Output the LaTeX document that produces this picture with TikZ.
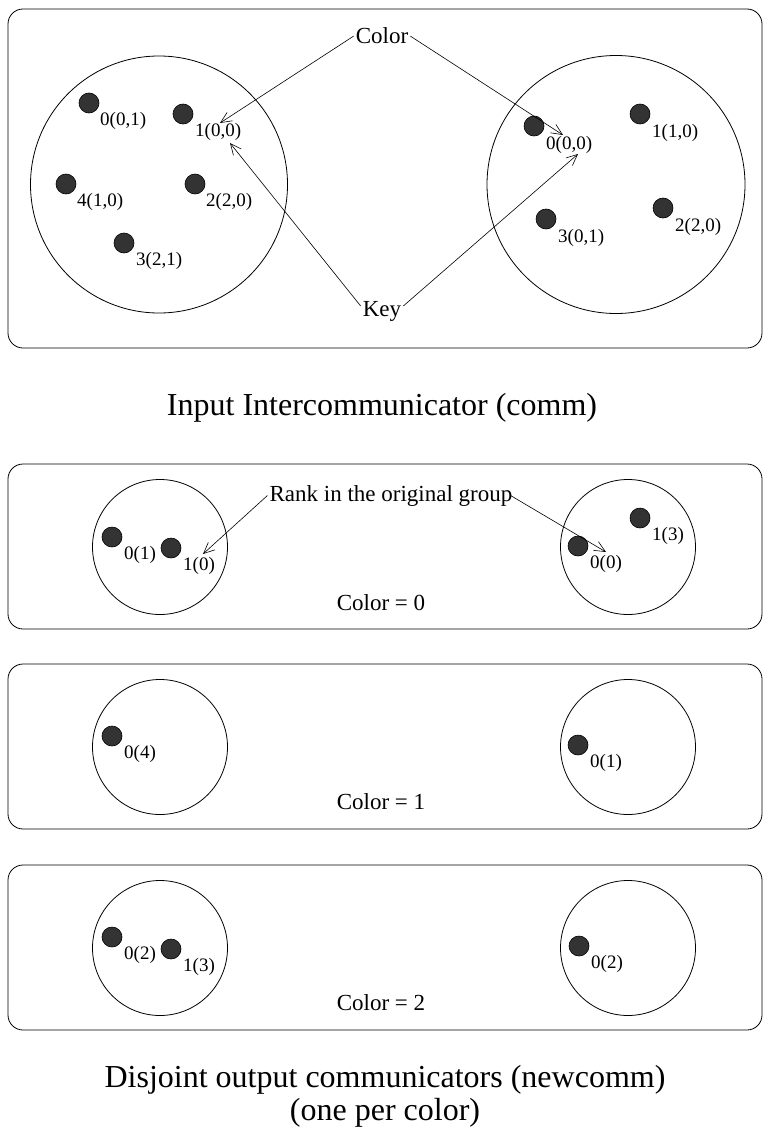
\documentclass[tikz,border=0pt]{standalone}
\usepackage{fontspec}
\setmainfont{Liberation Serif}
\usetikzlibrary{arrows.meta}
\begin{document}
\begin{tikzpicture}[x=1pt,y=-1pt,
  panel/.style={draw, rounded corners=15pt, line width=0.8pt},
  grp/.style={draw, circle, inner sep=0pt, line width=0.8pt},
  proc/.style={draw=black, fill=black!80, circle, inner sep=0pt, minimum size=20pt, line width=0.6pt},
  lbl/.style={anchor=west, inner sep=0pt, font=\fontsize{19}{21}\selectfont},
  ann/.style={inner sep=2pt, anchor=base, font=\fontsize{23}{26}\selectfont},
  ptr/.style={-{Straight Barb[length=11pt,width=10pt]}, line width=0.6pt},
  ttl/.style={anchor=base, inner sep=0pt, font=\fontsize{32}{36}\selectfont}]
\useasboundingbox (0,0) rectangle (770,1132);

% ---------- top panel ----------
\draw[panel] (8,9) rectangle (762,348);
\node[grp, minimum size=257pt] (gL) at (159,184.5) {};
\node[grp, minimum size=258pt] (gR) at (616,184.5) {};

\node[proc] (a0) at (89,103) {};  \node[lbl] (la0) at (100,121) {0(0,1)};
\node[proc] (a1) at (183,114) {}; \node[lbl] (la1) at (195,132) {1(0,0)};
\node[proc] (a4) at (66,184) {};  \node[lbl] (la4) at (77,202) {4(1,0)};
\node[proc] (a2) at (195,184) {}; \node[lbl] (la2) at (206,202) {2(2,0)};
\node[proc] (a3) at (124,243) {}; \node[lbl] (la3) at (136,261) {3(2,1)};

\node[proc] (b0) at (534,126) {}; \node[lbl] (lb0) at (546,145) {0(0,0)};
\node[proc] (b1) at (640,114) {}; \node[lbl] (lb1) at (652,133) {1(1,0)};
\node[proc] (b2) at (663,208) {}; \node[lbl] (lb2) at (675,227) {2(2,0)};
\node[proc] (b3) at (546,219) {}; \node[lbl] (lb3) at (558,238) {3(0,1)};

\node[ann] (color) at (382,44) {Color};
\node[ann] (key) at (382,316) {Key};
\coordinate (tCL) at (220,123);
\coordinate (tCR) at (563,135);
\coordinate (tKL) at (230,143);
\coordinate (tKR) at (578,154);
\draw[ptr] (color.west) -- (tCL);
\draw[ptr] (color.east) -- (tCR);
\draw[ptr] ([yshift=5pt]key.west) -- (tKL);
\draw[ptr] ([yshift=5pt]key.east) -- (tKR);

\node[ttl] (t1) at (382,415) {Input Intercommunicator (comm)};

% ---------- panel color 0 ----------
\draw[panel] (8,464) rectangle (762,629);
\node[grp, minimum size=135pt] (c0L) at (160,547) {};
\node[grp, minimum size=135pt] (c0R) at (628,547) {};
\node[proc] (p01) at (112,537) {}; \node[lbl] (lp01) at (124,555) {0(1)};
\node[proc] (p02) at (171,548) {}; \node[lbl] (lp02) at (183,566) {1(0)};
\node[proc] (p03) at (578,546) {}; \node[lbl] (lp03) at (590,564) {0(0)};
\node[proc] (p04) at (640,518) {}; \node[lbl] (lp04) at (652,536) {1(3)};
\node[ann] (rank) at (391,501) {Rank in the original group};
\coordinate (tRL) at (203,554);
\coordinate (tRR) at (606,552);
\draw[ptr] (rank.west) -- (tRL);
\draw[ptr] ([xshift=-4pt]rank.east) -- (tRR);
\node[ann] (col0) at (381,610) {Color = 0};

% ---------- panel color 1 ----------
\draw[panel] (8,664) rectangle (762,829);
\node[grp, minimum size=135pt] (c1L) at (160,747) {};
\node[grp, minimum size=135pt] (c1R) at (628,747) {};
\node[proc] (p11) at (112,736) {}; \node[lbl] (lp11) at (124,754) {0(4)};
\node[proc] (p12) at (578,745) {}; \node[lbl] (lp12) at (590,763) {0(1)};
\node[ann] (col1) at (381,809) {Color = 1};

% ---------- panel color 2 ----------
\draw[panel] (8,865) rectangle (762,1030);
\node[grp, minimum size=135pt] (c2L) at (160,948) {};
\node[grp, minimum size=135pt] (c2R) at (628,948) {};
\node[proc] (p21) at (112,937) {}; \node[lbl] (lp21) at (124,955) {0(2)};
\node[proc] (p22) at (171,949) {}; \node[lbl] (lp22) at (183,967) {1(3)};
\node[proc] (p23) at (579,946) {}; \node[lbl] (lp23) at (591,964) {0(2)};
\node[ann] (col2) at (381,1010) {Color = 2};

\node[ttl] (t2) at (385,1087) {Disjoint output communicators (newcomm)};
\node[ttl] (t3) at (385,1120) {(one per color)};
\end{tikzpicture}
\end{document}
